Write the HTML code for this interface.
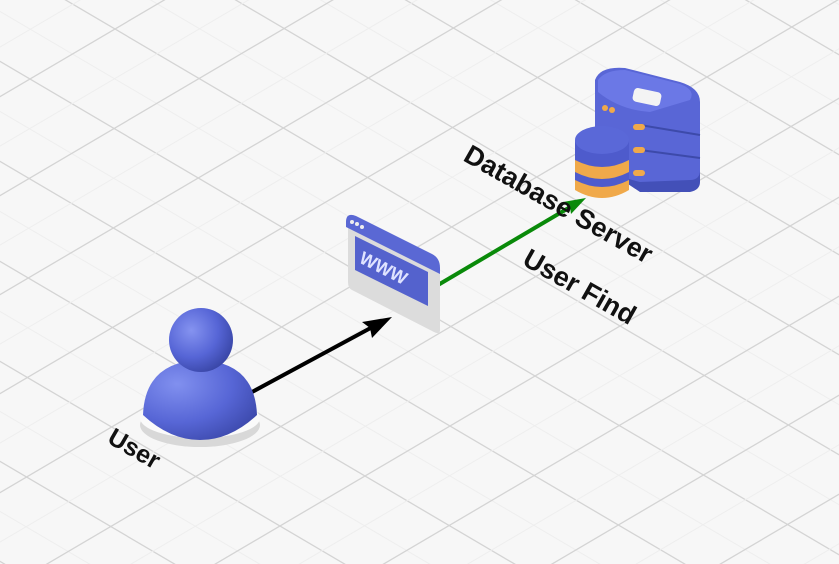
<!DOCTYPE html>
<html><head><style>
html,body{margin:0;padding:0;background:#f7f7f7;width:839px;height:564px;overflow:hidden}
svg{display:block}
text{font-family:"Liberation Sans",sans-serif;font-weight:bold;font-size:27px;fill:#111}
</style></head><body>
<svg id="s" width="839" height="564" viewBox="0 0 839 564" xmlns="http://www.w3.org/2000/svg">
<defs>
<radialGradient id="sph" cx="0.35" cy="0.35" r="0.7"><stop offset="0" stop-color="#8593f0"/><stop offset="0.6" stop-color="#5665d6"/><stop offset="1" stop-color="#3a47a8"/></radialGradient>
<radialGradient id="body" cx="0.3" cy="0.3" r="0.8"><stop offset="0" stop-color="#8190ef"/><stop offset="0.6" stop-color="#5766d6"/><stop offset="1" stop-color="#3d4aad"/></radialGradient>
</defs>
<g id="grid"></g>
<line x1="252" y1="392" x2="378" y2="324" stroke="#000" stroke-width="4"/>
<path d="M392,317 L362,322 L370,328 L372,338 Z" fill="#000"/>
<line x1="438" y1="285" x2="577" y2="203" stroke="#0a8a0a" stroke-width="4"/>
<path d="M586,198 L563,202 L570,207 L571,214 Z" fill="#0a8a0a"/>
<ellipse cx="200" cy="425" rx="60" ry="22" fill="#d8d8d8"/>
<ellipse cx="200" cy="418" rx="60" ry="20" fill="#fafafa"/>
<path d="M143,415 Q145,362 200,360 Q255,362 257,415 Q230,440 200,440 Q170,440 143,415 Z" fill="url(#body)"/>
<circle cx="201" cy="340" r="32" fill="url(#sph)"/>
<g>
<path d="M348,222 L440,268 L440,330 Q440,335 434,332 L352,290 Q348,288 348,282 Z" fill="#dcdcdc"/>
<path d="M346,222 Q346,212 356,216 L432,254 Q440,258 440,268 L440,274 L346,227 Z" fill="#5a68d4"/>
<path d="M355,236 L428,272 L428,306 L355,270 Z" fill="#5462cd"/>
<text x="0" y="0" transform="translate(358,262) rotate(27)" style="font-size:18px;fill:#dfe3ff">WWW</text>
<circle cx="352" cy="222" r="2" fill="#eee"/><circle cx="357" cy="224" r="2" fill="#eee"/><circle cx="362" cy="227" r="2" fill="#eee"/>
</g>
<g>
<path d="M625,148 L700,162 L700,182 Q700,190 690,192 L640,192 L625,182 Z" fill="#4350b8"/>
<path d="M595,80 Q600,66 625,68 L680,82 Q700,88 700,102 L700,170 Q700,180 690,180 L640,182 Q600,172 595,160 Z" fill="#5966d6"/>
<path d="M598,80 Q605,70 625,70 L680,84 Q696,90 690,100 L650,112 Q620,110 598,92 Z" fill="#6b78e6"/>
<rect x="633" y="90" width="28" height="14" rx="4" fill="#f4f4f4" transform="rotate(12 647 97)"/>
<line x1="640" y1="125" x2="700" y2="135" stroke="#3d4aaa" stroke-width="2"/>
<line x1="640" y1="150" x2="700" y2="158" stroke="#3d4aaa" stroke-width="2"/>
<rect x="633" y="124" width="12" height="6" rx="3" fill="#f0a94a"/>
<rect x="633" y="147" width="12" height="6" rx="3" fill="#f0a94a"/>
<rect x="633" y="170" width="12" height="6" rx="3" fill="#f0a94a"/>
<circle cx="605" cy="108" r="3" fill="#f0a94a"/><circle cx="612" cy="110" r="3" fill="#f0a94a"/>
<path d="M575,140 L629,140 L629,190 Q602,206 575,190 Z" fill="#f0a94a"/>
<path d="M575,172 Q602,186 629,172 L629,180 Q602,194 575,180 Z" fill="#4e5bcc"/>
<path d="M575,140 L629,140 L629,160 Q602,174 575,160 Z" fill="#4e5bcc"/>
<ellipse cx="602" cy="140" rx="27" ry="14" fill="#5a68d8"/>
</g>
<text transform="translate(106,442) rotate(30)" style="font-size:25px">User</text>
<text transform="translate(462,160) rotate(29.5)">Database Server</text>
<text transform="translate(521,264) rotate(29.5)">User Find</text>
</svg>
<script>
var g=document.getElementById('grid'),s=0.588,out='';
for(var k=-20;k<30;k++){
 var major=(k%2===0);
 var c=-38.6+k*50, d=96.6+k*49.5-99;
 var col=major?'#d4d4d4':'#eeeeee', w=major?1.3:1;
 out+='<line x1="-10" y1="'+(c-10*s)+'" x2="850" y2="'+(c+850*s)+'" stroke="'+col+'" stroke-width="'+w+'"/>';
 out+='<line x1="-10" y1="'+(d+10*s)+'" x2="850" y2="'+(d-850*s)+'" stroke="'+col+'" stroke-width="'+w+'"/>';
}
g.innerHTML=out;
</script>
</body></html>
